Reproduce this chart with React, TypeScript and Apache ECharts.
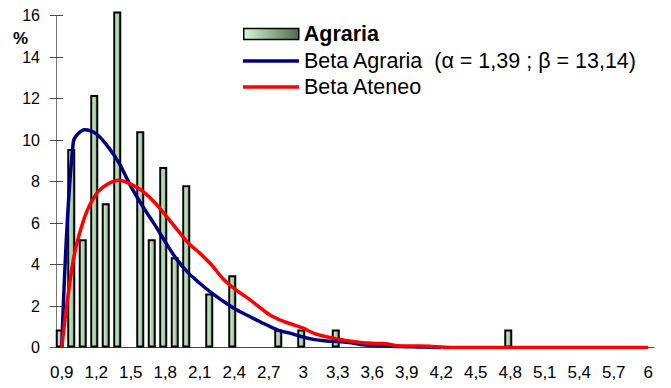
import React, { useEffect, useRef } from "react";
import * as echarts from "echarts";

// Category labels of the x axis (class centres, step 0,1)
const categories = [
  "0,9", "1", "1,1", "1,2", "1,3", "1,4", "1,5", "1,6", "1,7", "1,8",
  "1,9", "2", "2,1", "2,2", "2,3", "2,4", "2,5", "2,6", "2,7", "2,8",
  "2,9", "3", "3,1", "3,2", "3,3", "3,4", "3,5", "3,6", "3,7", "3,8",
  "3,9", "4", "4,1", "4,2", "4,3", "4,4", "4,5", "4,6", "4,7", "4,8",
  "4,9", "5", "5,1", "5,2", "5,3", "5,4", "5,5", "5,6", "5,7", "5,8",
  "5,9", "6",
];

// Observed frequencies (%) for Agraria
const agraria = [
  0.87, 9.57, 5.22, 12.17, 6.96, 16.2, null, 10.43, 5.22, 8.7,
  4.35, 7.83, null, 2.61, null, 3.48, null, null, null, 0.87,
  null, 0.87, null, null, 0.87, null, null, null, null, null,
  null, null, null, null, null, null, null, null, null, 0.87,
  null, null, null, null, null, null, null, null, null, null,
  null, null,
];

// Fitted beta density, Agraria
const betaAgraria = [
  0, 9.9, 10.5, 10.3, 9.7, 8.88, 7.78, 6.84, 6.0, 5.1,
  4.25, 3.6, 3.1, 2.65, 2.25, 1.88, 1.59, 1.31, 1.04, 0.8,
  0.67, 0.5, 0.38, 0.31, 0.29, 0.24, 0.15, 0.1, 0.07, 0.05,
  0.04, 0.03, 0.01, 0, null, null, null, null, null, null,
  null, null, null, null, null, null, null, null, null, null,
  null, null,
];

// Fitted beta density, Ateneo
const betaAteneo = [
  0, 4.2, 6.3, 7.4, 7.88, 8.07, 7.88, 7.55, 7.04, 6.4,
  5.71, 5.04, 4.55, 4.0, 3.33, 2.84, 2.45, 2.03, 1.6, 1.32,
  1.12, 0.93, 0.67, 0.52, 0.41, 0.31, 0.24, 0.2, 0.19, 0.1,
  0.07, 0.07, 0.06, 0.02, 0, 0, 0, 0, 0, 0,
  0, 0, 0, 0, 0, 0, 0, 0, 0, 0,
  0, 0,
];

const yTicks = { min: 0, max: 16, interval: 2 };

const NAME_BARS = "Agraria";
const NAME_BLUE = "Beta Agraria  (α = 1,39 ; β = 13,14)";
const NAME_RED = "Beta Ateneo";

const FONT = "'Liberation Sans', Arial, sans-serif";
const AXIS_COLOR = "#4a4a4a";

export default function App() {
  const ref = useRef<HTMLDivElement>(null);

  useEffect(() => {
    if (!ref.current) return;
    const chart = echarts.init(ref.current, null, { renderer: "svg" });

    const barFill = new echarts.graphic.LinearGradient(0, 0, 1, 0, [
      { offset: 0, color: "#dcf5dc" },
      { offset: 1, color: "#86b886" },
    ]);
    const legendFill = new echarts.graphic.LinearGradient(0, 0, 1, 0, [
      { offset: 0, color: "#d8f7d8" },
      { offset: 1, color: "#4f6b4f" },
    ]);

    const legendBase = {
      orient: "vertical",
      left: 243,
      padding: 0,
      selectedMode: false,
      textStyle: { fontFamily: FONT, fontSize: 21.5, color: "#000" },
    };

    chart.setOption({
      animation: false,
      backgroundColor: "#fff",
      title: {
        text: "%",
        left: 13,
        top: 30,
        padding: 0,
        textStyle: { fontFamily: FONT, fontSize: 17, fontWeight: "bold", color: "#000" },
      },
      legend: [
        {
          ...legendBase,
          top: 23,
          itemWidth: 55,
          itemHeight: 11,
          data: [
            {
              name: NAME_BARS,
              icon: "rect",
              itemStyle: { color: legendFill, borderColor: "#000", borderWidth: 1.5 },
              textStyle: { fontWeight: "bold" },
            },
          ],
        },
        {
          ...legendBase,
          top: 50,
          itemWidth: 56,
          itemHeight: 3.5,
          data: [{ name: NAME_BLUE, icon: "rect" }],
        },
        {
          ...legendBase,
          top: 76,
          itemWidth: 56,
          itemHeight: 3.5,
          data: [{ name: NAME_RED, icon: "rect" }],
        },
      ],
      grid: { left: 56, right: 17, top: 15.7, bottom: 40.5, containLabel: false },
      xAxis: [
        {
          type: "category",
          data: categories,
          boundaryGap: true,
          axisLine: { lineStyle: { color: AXIS_COLOR, width: 1 } },
          axisTick: { interval: 0, length: 5, lineStyle: { color: "#666" } },
          axisLabel: {
            interval: 2,
            margin: 16,
            fontFamily: FONT,
            fontSize: 17,
            color: "#000",
          },
          splitLine: { show: false },
        },
        {
          type: "category",
          data: categories,
          boundaryGap: true,
          position: "bottom",
          axisLine: { show: false },
          axisTick: { interval: 0, inside: true, length: 5, lineStyle: { color: "#666" } },
          axisLabel: { show: false },
          splitLine: { show: false },
        },
      ],
      yAxis: [
        {
          type: "value",
          ...yTicks,
          axisLine: { show: true, lineStyle: { color: "#777", width: 1 } },
          axisTick: { show: true, length: 6, lineStyle: { color: AXIS_COLOR } },
          axisLabel: {
            margin: 16,
            fontFamily: "'Liberation Sans Narrow', 'Liberation Sans', Arial, sans-serif",
            fontSize: 16,
            color: "#000",
          },
          splitLine: { show: false },
        },
        {
          type: "value",
          ...yTicks,
          position: "left",
          axisLine: { show: false },
          axisTick: { show: true, inside: true, length: 7, lineStyle: { color: AXIS_COLOR } },
          axisLabel: { show: false },
          splitLine: { show: false },
        },
      ],
      series: [
        {
          name: NAME_BARS,
          type: "bar",
          data: agraria,
          barWidth: 8,
          barGap: "0%",
          clip: false,
          itemStyle: { color: barFill, borderColor: "#000", borderWidth: 2 },
          z: 2,
        },
        {
          // empty companion series keeps each bar on the left side of its class
          name: "spacer",
          type: "bar",
          data: categories.map(() => null),
          barWidth: 4,
          barGap: "0%",
          silent: true,
          itemStyle: { color: "transparent" },
        },
        {
          name: NAME_BLUE,
          type: "line",
          data: betaAgraria,
          smooth: 0.3,
          showSymbol: false,
          symbol: "none",
          lineStyle: { color: "#000080", width: 3.5 },
          itemStyle: { color: "#000080" },
          z: 3,
        },
        {
          name: NAME_RED,
          type: "line",
          data: betaAteneo,
          smooth: 0.3,
          showSymbol: false,
          symbol: "none",
          lineStyle: { color: "#ff0000", width: 3.5 },
          itemStyle: { color: "#ff0000" },
          z: 4,
        },
      ],
    });

    return () => chart.dispose();
  }, []);

  return (
    <div
      ref={ref}
      style={{ position: "fixed", left: 0, top: 0, width: 671, height: 388, background: "#fff" }}
    />
  );
}
